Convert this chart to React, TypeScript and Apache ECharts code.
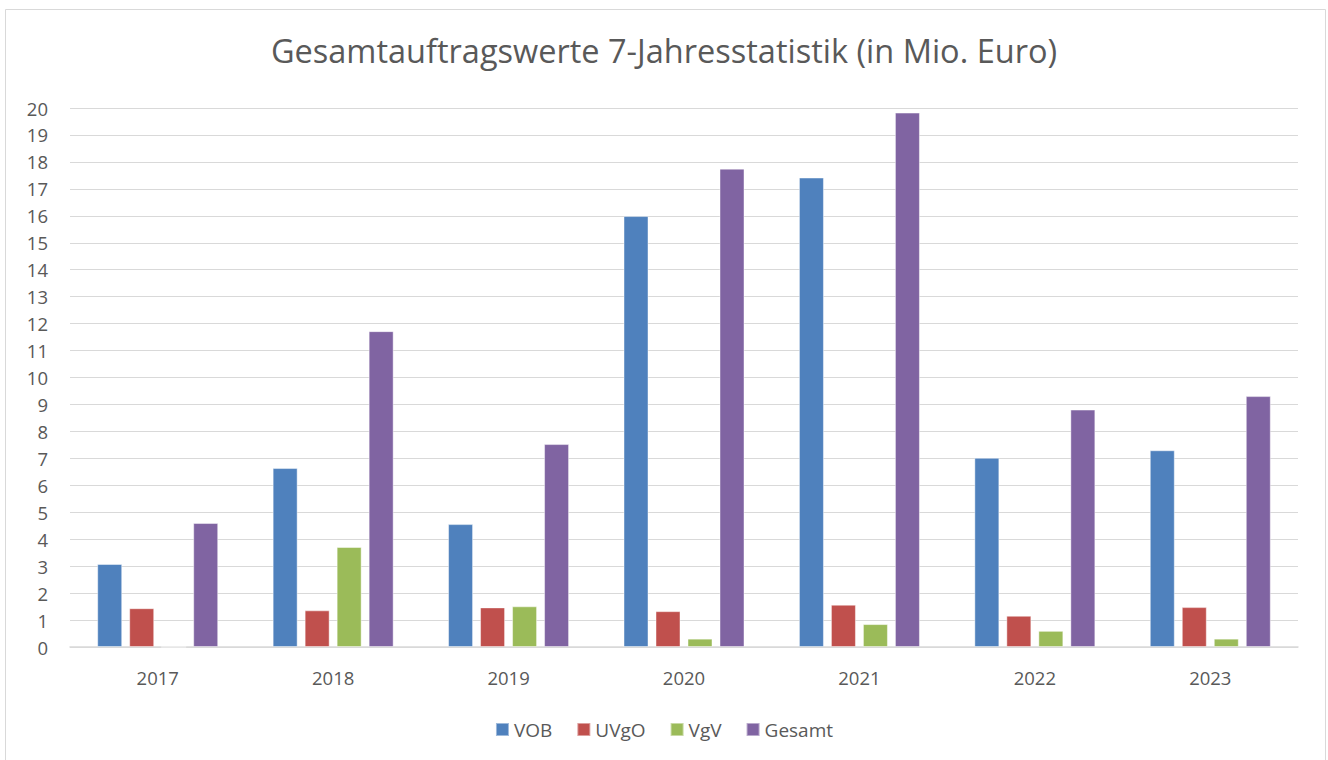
import React, { useEffect, useRef } from "react";
import * as echarts from "echarts";

const years = ["2017", "2018", "2019", "2020", "2021", "2022", "2023"];
const vob = [3.08, 6.64, 4.56, 15.99, 17.42, 7.02, 7.3];
const uvgo = [1.44, 1.36, 1.47, 1.33, 1.57, 1.16, 1.48];
const vgv = [0, 3.71, 1.51, 0.31, 0.85, 0.6, 0.31];
const gesamt = [4.6, 11.72, 7.53, 17.75, 19.83, 8.81, 9.31];
const seriesNames = ["VOB", "UVgO", "VgV", "Gesamt"];
const colors = ["#4f81bd", "#c0504d", "#9bbb59", "#8064a2"];

const FONT = "'Open Sans', 'Noto Sans', sans-serif";

export default function App() {
  const ref = useRef<HTMLDivElement>(null);
  useEffect(() => {
    if (!ref.current) return;
    const chart = echarts.init(ref.current, undefined, { renderer: "svg" });
    const data = [vob, uvgo, vgv, gesamt];
    chart.setOption({
      animation: false,
      textStyle: { fontFamily: FONT },
      title: {
        text: "Gesamtauftragswerte 7-Jahresstatistik (in Mio. Euro)",
        left: "center",
        top: 29,
        textStyle: { fontSize: 32.5, fontWeight: "normal", color: "#595959", fontFamily: FONT },
      },
      graphic: [
        {
          type: "rect",
          shape: { x: 5.5, y: 9.5, width: 1320, height: 760 },
          style: { fill: "none", stroke: "#d9d9d9", lineWidth: 1 },
          silent: true,
        },
      ],
      legend: {
        bottom: 16,
        left: "center",
        itemWidth: 13,
        itemHeight: 13,
        itemGap: 24,
        icon: "rect",
        textStyle: { fontSize: 19, color: "#595959", fontFamily: FONT },
        data: seriesNames,
      },
      grid: { left: 70, right: 30, top: 108, bottom: 113, containLabel: false },
      xAxis: {
        type: "category",
        data: years,
        axisLine: { lineStyle: { color: "#d9d9d9", width: 1.5 } },
        axisTick: { show: false },
        axisLabel: { fontSize: 18.5, color: "#595959", margin: 21, fontFamily: FONT },
      },
      yAxis: {
        type: "value",
        min: 0,
        max: 20,
        interval: 1,
        axisLine: { show: false },
        axisTick: { show: false },
        axisLabel: { fontSize: 18.5, color: "#595959", margin: 22, fontFamily: FONT },
        splitLine: { lineStyle: { color: "#d9d9d9", width: 1 } },
      },
      series: seriesNames.map((name, i) => ({
        name,
        type: "bar",
        data: data[i],
        barWidth: 25,
        barGap: "28%",
        itemStyle: { color: colors[i], borderColor: "rgba(255,255,255,0.45)", borderWidth: 1 },
      })),
    });
    return () => chart.dispose();
  }, []);
  return <div ref={ref} style={{ width: 1328, height: 760, position: "absolute", left: 0, top: 0 }} />;
}
